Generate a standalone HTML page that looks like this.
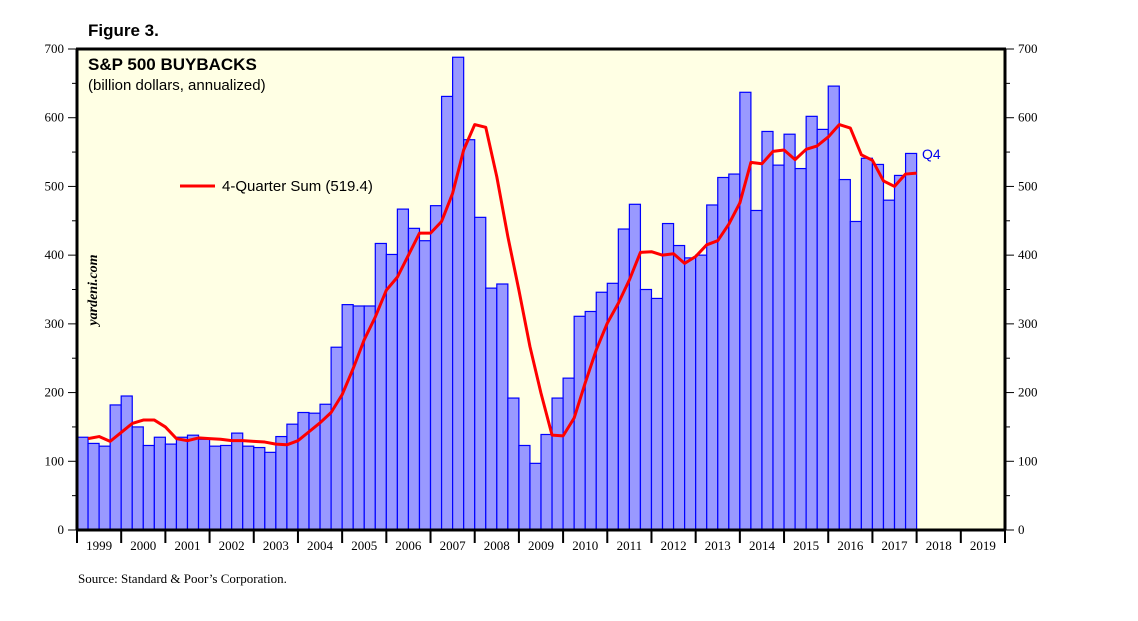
<!DOCTYPE html>
<html><head><meta charset="utf-8"><style>
body{margin:0;background:#fff;width:1138px;height:621px;overflow:hidden}
svg{display:block}
</style></head><body>
<svg id="c" width="1138" height="621" xmlns="http://www.w3.org/2000/svg">
<text x="88" y="36" font-family="Liberation Sans, sans-serif" font-size="17" font-weight="bold">Figure 3.</text>
<rect x="77" y="49" width="928" height="481" fill="#ffffe4"/>
<g id="bars"></g>
<g id="axes"></g>
<text x="88" y="70" font-family="Liberation Sans, sans-serif" font-size="17" font-weight="bold">S&amp;P 500 BUYBACKS</text>
<text x="88" y="90" font-family="Liberation Sans, sans-serif" font-size="15">(billion dollars, annualized)</text>
<line x1="180" y1="186" x2="215" y2="186" stroke="#ff0000" stroke-width="3"/>
<text x="222" y="191" font-family="Liberation Sans, sans-serif" font-size="15">4-Quarter Sum (519.4)</text>
<text transform="translate(97,290) rotate(-90)" text-anchor="middle" font-family="Liberation Serif, serif" font-size="14" font-style="italic" font-weight="bold">yardeni.com</text>
<text x="922" y="159" font-family="Liberation Sans, sans-serif" font-size="14" fill="#0000ee">Q4</text>
<text x="78" y="583" font-family="Liberation Serif, serif" font-size="13">Source: Standard &amp; Poor’s Corporation.</text>
</svg>
<script>
const years=["1999","2000","2001","2002","2003","2004","2005","2006","2007","2008","2009","2010","2011","2012","2013","2014","2015","2016","2017","2018","2019"];
const yTicks=[0,100,200,300,400,500,600,700];
const buybacks=[135,126,122,182,195,150,123,135,125,135,138,132,122,123,141,122,120,113,136,154,171,170,183,266,328,326,326,417,401,467,439,421,472,631,688,568,455,352,358,192,123,97,139,192,221,311,318,346,359,438,474,350,337,446,414,396,400,473,513,518,637,465,580,531,576,526,602,583,646,510,449,541,532,480,516,548];
const sum4q=[133,136,129,142,155,160,160,150,133,130,134,133,132,130,130,129,128,125,124,130,143,156,171,197,235,277,310,349,368,400,432,432,449,490,553,590,586,514,427,349,267,199,138,137,163,214,262,301,330,364,404,405,400,402,388,398,415,421,445,476,535,533,551,553,539,554,559,572,590,585,546,538,508,500,518,519.4];
const NS="http://www.w3.org/2000/svg";
const X0=77,X1=1005,Y0=530,Y1=49,YMAX=700;
const yearW=(X1-X0)/years.length, qW=yearW/4;
const xq=i=>X0+i*qW;
const y=v=>Y0-(v/YMAX)*(Y0-Y1);
function mk(tag,attrs,parent){const e=document.createElementNS(NS,tag);for(const k in attrs)e.setAttribute(k,attrs[k]);parent.appendChild(e);return e;}
const bars=document.getElementById('bars'),axes=document.getElementById('axes');
buybacks.forEach((v,i)=>{
 const r=mk('rect',{x:xq(i),y:y(v),width:qW,height:Y0-y(v),fill:'#9999ff',stroke:'#0000ff','stroke-width':1.2},bars);
 
 
});
const pts=sum4q.map((v,i)=>xq(i+1)+','+y(v)).join(' ');
const pl=mk('polyline',{points:pts,fill:'none',stroke:'#ff0000','stroke-width':3,'stroke-linejoin':'round'},bars);


// frame
mk('line',{x1:X0-1,y1:Y1,x2:X1+1,y2:Y1,stroke:'#000','stroke-width':3},axes);
mk('line',{x1:X0,y1:Y1,x2:X0,y2:Y0,stroke:'#000','stroke-width':3},axes);
mk('line',{x1:X1,y1:Y1,x2:X1,y2:Y0,stroke:'#000','stroke-width':3},axes);
mk('line',{x1:X0-1,y1:Y0,x2:X1+1,y2:Y0,stroke:'#000','stroke-width':3},axes);
for(let v=0;v<=YMAX;v+=50){
 const yy=y(v),major=v%100===0;
 mk('line',{x1:X0-(major?9:5),y1:yy,x2:X0,y2:yy,stroke:'#000','stroke-width':1},axes);
 mk('line',{x1:X1,y1:yy,x2:X1+(major?9:5),y2:yy,stroke:'#000','stroke-width':1},axes);
}
yTicks.forEach(v=>{
 const t=mk('text',{x:X0-13,y:y(v)+4,'text-anchor':'end','font-family':'Liberation Serif, serif','font-size':13},axes);
 t.textContent=v;
 
 
 const t2=mk('text',{x:X1+13,y:y(v)+4,'font-family':'Liberation Serif, serif','font-size':13},axes);
 t2.textContent=v;
 
 
});
years.forEach((yr,i)=>{
 const x=X0+i*yearW;
 mk('line',{x1:x,y1:Y0,x2:x,y2:Y0+13,stroke:'#000','stroke-width':2},axes);
 const t=mk('text',{x:x+yearW/2,y:Y0+20,'text-anchor':'middle','font-family':'Liberation Serif, serif','font-size':13},axes);
 t.textContent=yr;
 
 
});
mk('line',{x1:X1,y1:Y0,x2:X1,y2:Y0+13,stroke:'#000','stroke-width':2},axes);
</script>
</body></html>
